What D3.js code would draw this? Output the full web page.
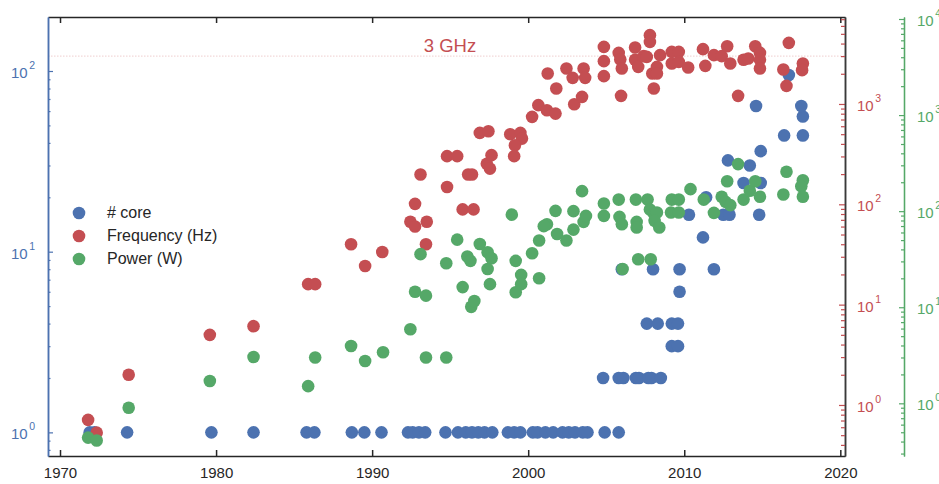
<!DOCTYPE html>
<html>
<head>
<meta charset="utf-8">
<script src="https://cdn.jsdelivr.net/npm/d3@7"></script>
<style>
  html, body { margin: 0; padding: 0; background: #fff; }
  svg { display: block; font-family: "Liberation Sans", Arial, Helvetica, sans-serif; }
</style>
</head>
<body>
<script>
// ---- Data: microprocessor trends (year, value) ----
const coreYears = [1971.9, 1972.2, 1974.3, 1979.7, 1982.4, 1985.8, 1986.3, 1988.7, 1989.5, 1990.6,
  1992.3, 1992.6, 1993.0, 1993.4, 1994.7, 1995.5, 1996.0, 1996.4, 1996.8, 1997.2, 1997.7,
  1998.7, 1999.1, 1999.5, 2000.3, 2000.6, 2001.1, 2001.6, 2002.2, 2002.6, 2003.0, 2003.5, 2003.8,
  2004.9, 2005.8,
  2004.8, 2005.8, 2006.1, 2006.9, 2007.1, 2007.7, 2007.9, 2008.5,
  2009.2, 2009.6,
  2007.6, 2008.3, 2009.2, 2009.6,
  2009.7,
  2006.0, 2008.0, 2009.7, 2011.9,
  2011.2,
  2010.3, 2012.5, 2012.9, 2014.8,
  2011.4,
  2013.8, 2014.9,
  2014.2, 2012.8, 2014.9,
  2016.4, 2017.6, 2017.6,
  2014.6, 2017.5, 2016.7];
const coreCounts = [1, 1, 1, 1, 1, 1, 1, 1, 1, 1,
  1, 1, 1, 1, 1, 1, 1, 1, 1, 1, 1,
  1, 1, 1, 1, 1, 1, 1, 1, 1, 1, 1, 1,
  1, 1,
  2, 2, 2, 2, 2, 2, 2, 2,
  3, 3,
  4, 4, 4, 4,
  6,
  8, 8, 8, 8,
  12,
  16, 16, 16, 16,
  20,
  24, 24,
  30, 32, 36,
  44, 44, 56,
  64, 64, 95];

const freqYears = [1971.8, 1972.35, 1974.4, 1979.6, 1982.4, 1985.9, 1986.35, 1988.65, 1989.55, 1990.65,
  1992.45, 1992.75, 1993.5, 1992.75, 1993.1, 1993.45, 1994.8, 1994.8, 1995.45, 1995.8,
  1996.5, 1996.15, 1996.4, 1996.9, 1997.45, 1997.35, 1997.55, 1997.65, 1998.85, 1999.5,
  1999.6, 1999.15, 1999.1, 2000.25, 2000.65, 2001.2, 2001.75, 2001.25, 2001.8, 2002.45,
  2002.85, 2002.95, 2003.45, 2003.55, 2003.65, 2004.85, 2004.85, 2004.85, 2005.8, 2005.9,
  2006.0, 2005.95, 2006.85, 2006.85, 2007.05, 2007.4, 2007.6, 2007.8, 2007.8, 2007.95,
  2008.25, 2008.25, 2008.05, 2008.45, 2009.2, 2009.65, 2009.2, 2009.65, 2010.25, 2011.2,
  2011.35, 2011.9, 2012.4, 2012.75, 2012.95, 2013.45, 2013.8, 2014.1, 2014.55, 2014.85,
  2014.85, 2014.85, 2016.7, 2016.35, 2016.55, 2017.6, 2017.55];
const freqMHz = [0.71, 0.53, 2.0, 5.0, 6.1, 16, 16, 40, 24.3, 33.5,
  67, 60, 67, 101, 198, 40, 149, 302, 302, 89,
  89, 198, 198, 515, 535, 254, 227, 309, 500, 515,
  452, 388, 302, 744, 973, 867, 802, 2010, 1425, 2254,
  1821, 995, 1178, 2254, 1821, 3707, 2672, 1893, 3230, 2773,
  2254, 1205, 3650, 2757, 2344, 2997, 2946, 4853, 4158, 2010,
  2344, 2010, 1425, 3068, 3306, 3306, 2529, 2630, 2306, 3518,
  2399, 3068, 2997, 3767, 2529, 1205, 2757, 2837, 3767, 3230,
  2757, 2254, 4065, 2203, 1514, 2529, 2173];

const powerYears = [1971.8, 1972.35, 1974.4, 1979.6, 1982.4, 1985.9, 1986.35, 1988.65, 1989.55, 1990.7,
  1992.45, 1993.45, 1994.75, 1992.75, 1993.45, 1993.1, 1994.75, 1995.45, 1995.8, 1996.1,
  1996.3, 1996.35, 1996.55, 1996.9, 1997.4, 1997.65, 1997.4, 1997.55, 1999.2, 1999.55,
  1999.55, 1999.2, 2000.25, 2000.7, 2000.7, 1998.95, 2001.2, 2001.0, 2001.75, 2001.85,
  2002.45, 2002.9, 2002.9, 2003.45, 2003.55, 2003.7, 2004.85, 2004.85, 2005.8, 2005.85,
  2006.0, 2006.05, 2006.9, 2006.95, 2006.95, 2007.05, 2007.65, 2007.8, 2008.05, 2008.25,
  2008.1, 2008.4, 2007.85, 2009.2, 2009.65, 2009.15, 2009.65, 2010.4, 2011.25, 2011.9,
  2012.4, 2012.65, 2012.95, 2012.75, 2013.45, 2013.8, 2014.2, 2014.55, 2014.85, 2016.55,
  2016.35, 2017.6, 2017.5, 2017.6];
const powerWatts = [0.44, 0.41, 0.90, 1.71, 3.04, 1.51, 3.0, 3.95, 2.76, 3.4,
  5.9, 3.0, 3.0, 14.5, 13.2, 35.7, 28.7, 50.5, 16.2, 33.7,
  30.4, 10.1, 11.6, 45.5, 37.4, 32.4, 25, 17.4, 30.4, 21.7,
  17.4, 14.3, 36.5, 49.5, 20, 92, 73, 69.8, 100.7, 57.8,
  49.5, 100, 64.3, 161.6, 77.3, 89.3, 120, 89.3, 132, 87.2,
  73, 25, 132, 77.3, 67.5, 31.6, 132, 104, 94.4, 96.7,
  79.3, 67.5, 31.6, 132, 132, 96.7, 96.7, 169.5, 132, 96,
  141, 125, 115.5, 205, 309, 132, 163, 205, 141, 257,
  149, 210, 182, 141];

// ---- Tick labels ----
const yearTicks = [1970, 1980, 1990, 2000, 2010, 2020];
const coreExponents = [0, 1, 2];
const freqExponents = [0, 1, 2, 3];
const powerExponents = [0, 1, 2, 3, 4];
const legendLabels = ["# core", "Frequency (Hz)", "Power (W)"];
const refFreqMHz = 3000;
const refLabel = "3 GHz";

// ---- Layout & style ----
const W = 939, H = 484;
const plotL = 48, plotR = 845, plotT = 17, plotB = 456;
const powerAxisX = 904;
const BLUE = "#4C72B0", RED = "#C44E52", GREEN = "#55A868", INK = "#262626";
const R = 6.3;

const svg = d3.select("body").append("svg").attr("width", W).attr("height", H);

const x = d3.scaleLinear().domain([1969.23, 2020.3]).range([plotL, plotR]);
const yCore = d3.scaleLog().domain([0.74, 199]).range([plotB, plotT]);
const yFreq = d3.scaleLog().domain([0.31, 7360]).range([plotB, plotT]);
const yPow = d3.scaleLog().domain([0.283, 10490]).range([plotB, plotT]);

function minorTicks(scale) {
  const [a, b] = scale.domain();
  const out = [];
  for (let e = Math.floor(Math.log10(a)); e <= Math.ceil(Math.log10(b)); e++) {
    for (let m = 2; m <= 9; m++) {
      const v = m * Math.pow(10, e);
      if (v >= a && v <= b) out.push(v);
    }
  }
  return out;
}
function majorTicks(exps) { return exps.map(e => Math.pow(10, e)); }

function styleAxis(g, color, width) {
  g.select(".domain").attr("stroke", color).attr("stroke-width", width);
  g.selectAll(".tick line").attr("stroke", color).attr("stroke-width", 1.2);
  g.selectAll(".tick text").remove();
}

// reference line at 3 GHz
svg.append("line")
  .attr("x1", plotL).attr("x2", plotR)
  .attr("y1", yFreq(refFreqMHz)).attr("y2", yFreq(refFreqMHz))
  .attr("stroke", RED).attr("stroke-opacity", 0.28).attr("stroke-width", 1)
  .attr("stroke-dasharray", "1.5,1.5");
svg.append("text")
  .attr("x", 450).attr("y", 52).attr("text-anchor", "middle")
  .attr("font-size", 18.5).attr("fill", RED).text(refLabel);

// ---- x axes (bottom with labels, top mirrored ticks) ----
const xb = svg.append("g").attr("transform", `translate(0,${plotB})`)
  .call(d3.axisBottom(x).tickValues(yearTicks).tickFormat(d3.format("d"))
    .tickSizeInner(-6).tickSizeOuter(0).tickPadding(11));
xb.select(".domain").attr("stroke", INK).attr("stroke-width", 1.5);
xb.selectAll(".tick line").attr("stroke", INK).attr("stroke-width", 1.5);
xb.selectAll(".tick text").attr("font-size", 15).attr("fill", INK)
  .attr("font-family", "Liberation Sans, Arial, sans-serif");

const xt = svg.append("g").attr("transform", `translate(0,${plotT})`)
  .call(d3.axisTop(x).tickValues(yearTicks).tickSizeInner(-6).tickSizeOuter(0));
xt.select(".domain").attr("stroke", INK).attr("stroke-width", 1.5);
xt.selectAll(".tick line").attr("stroke", INK).attr("stroke-width", 1.5);
xt.selectAll(".tick text").remove();

// ---- left axis: cores ----
const gl = svg.append("g").attr("transform", `translate(${plotL},0)`)
  .call(d3.axisLeft(yCore).tickValues(majorTicks(coreExponents)).tickSizeInner(-5).tickSizeOuter(0));
styleAxis(gl, BLUE, 1.5);
const glm = svg.append("g").attr("transform", `translate(${plotL},0)`)
  .call(d3.axisLeft(yCore).tickValues(minorTicks(yCore)).tickSizeInner(-2.5).tickSizeOuter(0));
styleAxis(glm, BLUE, 1.5);

// ---- right axis: frequency ----
const gr = svg.append("g").attr("transform", `translate(${plotR},0)`)
  .call(d3.axisRight(yFreq).tickValues(majorTicks(freqExponents)).tickSizeInner(-6).tickSizeOuter(0));
styleAxis(gr, "#3a3a3a", 1.5);
gr.selectAll(".tick line").attr("stroke", RED);
const grm = svg.append("g").attr("transform", `translate(${plotR},0)`)
  .call(d3.axisRight(yFreq).tickValues(minorTicks(yFreq)).tickSizeInner(-4).tickSizeOuter(0));
styleAxis(grm, "#3a3a3a", 1.5);
grm.selectAll(".tick line").attr("stroke", RED);

// ---- outer right axis: power ----
const gp = svg.append("g").attr("transform", `translate(${powerAxisX},0)`)
  .call(d3.axisRight(yPow).tickValues(majorTicks(powerExponents)).tickSizeInner(-5).tickSizeOuter(0));
styleAxis(gp, GREEN, 1.3);
const gpm = svg.append("g").attr("transform", `translate(${powerAxisX},0)`)
  .call(d3.axisRight(yPow).tickValues(minorTicks(yPow)).tickSizeInner(-3).tickSizeOuter(0));
styleAxis(gpm, GREEN, 1.3);

// power-of-ten labels with superscript exponent
function expLabels(exps, scale, xPos, anchor, color) {
  const t = svg.append("g").selectAll("text").data(exps).join("text")
    .attr("x", xPos).attr("y", e => scale(Math.pow(10, e)) + 7)
    .attr("text-anchor", anchor).attr("fill", color).attr("font-size", 15);
  t.append("tspan").text("10");
  t.append("tspan").attr("dx", 1.5).attr("dy", -9).attr("font-size", 10.5).text(e => e);
}
expLabels(coreExponents, yCore, 35, "end", BLUE);
expLabels(freqExponents, yFreq, 857, "start", RED);
expLabels(powerExponents, yPow, 917, "start", GREEN);

// ---- scatter points ----
const pts = svg.append("g");
pts.selectAll("circle.core").data(coreYears.map((d, i) => [d, coreCounts[i]])).join("circle")
  .attr("class", "core").attr("cx", d => x(d[0])).attr("cy", d => yCore(d[1])).attr("r", R).attr("fill", BLUE);
pts.selectAll("circle.freq").data(freqYears.map((d, i) => [d, freqMHz[i]])).join("circle")
  .attr("class", "freq").attr("cx", d => x(d[0])).attr("cy", d => yFreq(d[1])).attr("r", R).attr("fill", RED);
pts.selectAll("circle.pow").data(powerYears.map((d, i) => [d, powerWatts[i]])).join("circle")
  .attr("class", "pow").attr("cx", d => x(d[0])).attr("cy", d => yPow(d[1])).attr("r", R).attr("fill", GREEN);

// ---- legend ----
const legendColors = [BLUE, RED, GREEN];
const lg = svg.append("g").attr("transform", "translate(79,213)");
const items = lg.selectAll("g").data(legendLabels).join("g")
  .attr("transform", (d, i) => `translate(0,${i * 23})`);
items.append("circle").attr("r", R).attr("fill", (d, i) => legendColors[i]);
items.append("text").attr("x", 28).attr("y", 5).attr("font-size", 16).attr("fill", INK).text(d => d);
</script>
</body>
</html>
